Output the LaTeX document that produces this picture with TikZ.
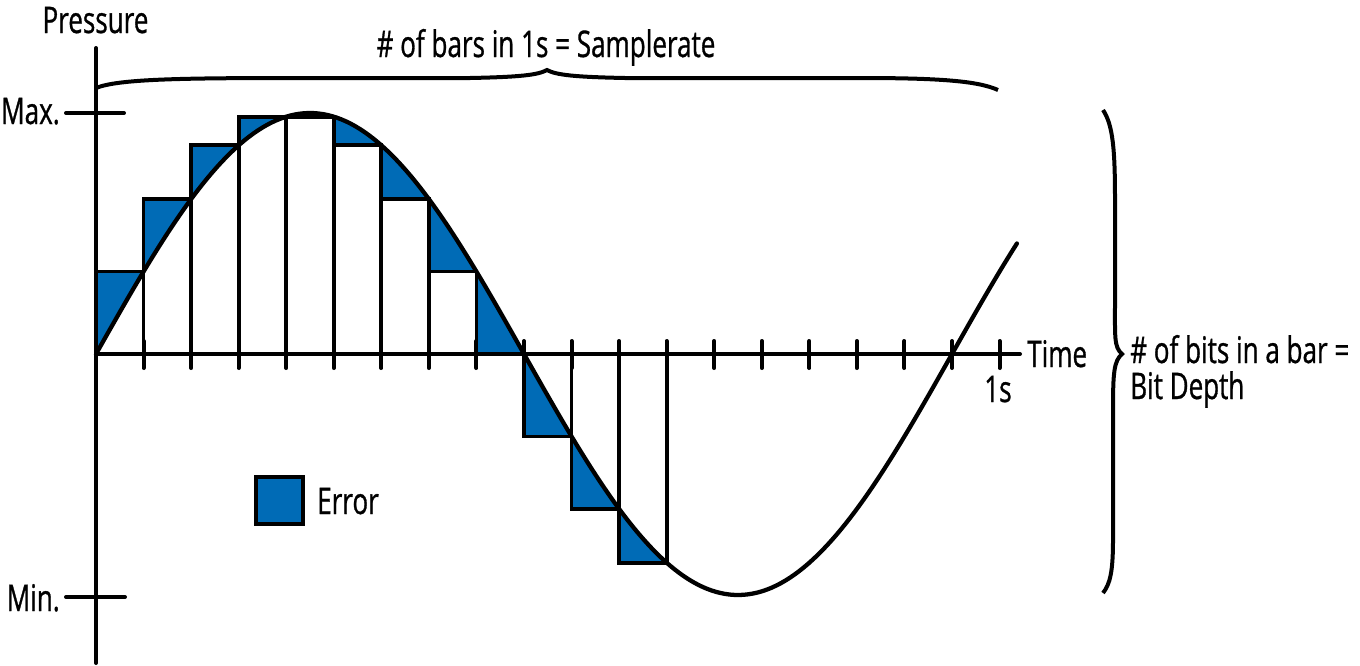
\documentclass[tikz,border=0pt]{standalone}
\usepackage{fontspec}
\setmainfont[FakeStretch=0.71,FakeBold=0.8]{Open Sans}
\definecolor{errblue}{RGB}{0,107,182}
\begin{document}
\begin{tikzpicture}[x=0.75pt,y=-0.75pt,
  declare function={wx(\t)=96+\t*2.3777778; wy(\t)=354-241*sin(\t);},
  lbl/.style={font=\fontsize{27.5}{32}\selectfont, inner sep=0pt},
  axisline/.style={line width=3pt, line cap=round},
  barline/.style={line width=2.8pt, line join=miter},
  wave/.style={line width=3.2pt, line cap=round},
  bracket/.style={line width=3pt},
  legendbox/.style={draw, fill=errblue, line width=3pt, inner sep=0pt, minimum width=35pt, minimum height=35pt}]
\useasboundingbox (0,0) rectangle (1360,665);

% error areas and sample bars
\foreach \i in {0,...,11}{
  \pgfmathsetmacro\ma{20*\i}
  \pgfmathsetmacro\mb{20*\i+20}
  \pgfmathsetmacro\xa{96+\ma*2.3777778}
  \pgfmathsetmacro\yb{354-241*sin(\mb)}
  \fill[errblue] plot[domain=\ma:\mb, samples=20] ({wx(\x)},{wy(\x)}) -- (\xa,\yb) -- cycle;
}
\foreach \i in {0,...,11}{
  \pgfmathsetmacro\ma{20*\i}
  \pgfmathsetmacro\mb{20*\i+20}
  \pgfmathsetmacro\xa{96+\ma*2.3777778}
  \pgfmathsetmacro\xb{96+\mb*2.3777778}
  \pgfmathsetmacro\yb{354-241*sin(\mb)}
  \draw[barline] (\xa,354) rectangle (\xb,\yb);
}

% wave
\draw[wave] plot[domain=0:387.3, samples=200] ({wx(\x)},{wy(\x)});

% axes
\coordinate (ytop) at (96,48);
\coordinate (ybot) at (96,663);
\coordinate (orig) at (96,354);
\coordinate (xend) at (1020,354);
\draw[axisline] (ytop) -- (ybot);
\draw[axisline] (orig) -- (xend);
\foreach \k in {1,...,19}
  \draw[axisline] ({96+\k*47.555556},341) -- ({96+\k*47.555556},368);
\draw[axisline] (66,113) -- (124,113);
\draw[axisline] (66,597) -- (125,597);

% braces
\draw[bracket] (96,88) .. controls (118,79) and (180,78) .. (300,78) -- (470,78)
  .. controls (520,77) and (538,75) .. (547,70)
  .. controls (556,75) and (575,77) .. (625,78) -- (860,78)
  .. controls (940,78) and (978,81) .. (998,90);
\draw[bracket] (1103,110) .. controls (1113,125) and (1115,150) .. (1115,200) -- (1115,300)
  .. controls (1115,338) and (1114,347) .. (1122,354)
  .. controls (1114,361) and (1113,372) .. (1113,410) -- (1113,540)
  .. controls (1113,572) and (1110,584) .. (1103,593);

% labels
\node[lbl, anchor=base] (pressure) at (95.5,33) {Pressure};
\node[lbl, anchor=base east] (max) at (60,124) {Max.};
\node[lbl, anchor=base east] (min) at (60,611) {Min.};
\node[lbl, anchor=base] (rate) at (546,57) {\# of bars in 1s = Samplerate};
\node[lbl, anchor=base west] (time) at (1027,367) {Time};
\node[lbl, anchor=base] (ones) at (998,402) {1s};
\node[lbl, anchor=base west] (bits) at (1130,363) {\# of bits in a bar =};
\node[lbl, anchor=base west] (depth) at (1130,399) {Bit Depth};
\node[legendbox] (errbox) at (279.5,500.5) {};
\node[lbl, anchor=base west] (errlbl) at (317,514) {Error};
\end{tikzpicture}
\end{document}
